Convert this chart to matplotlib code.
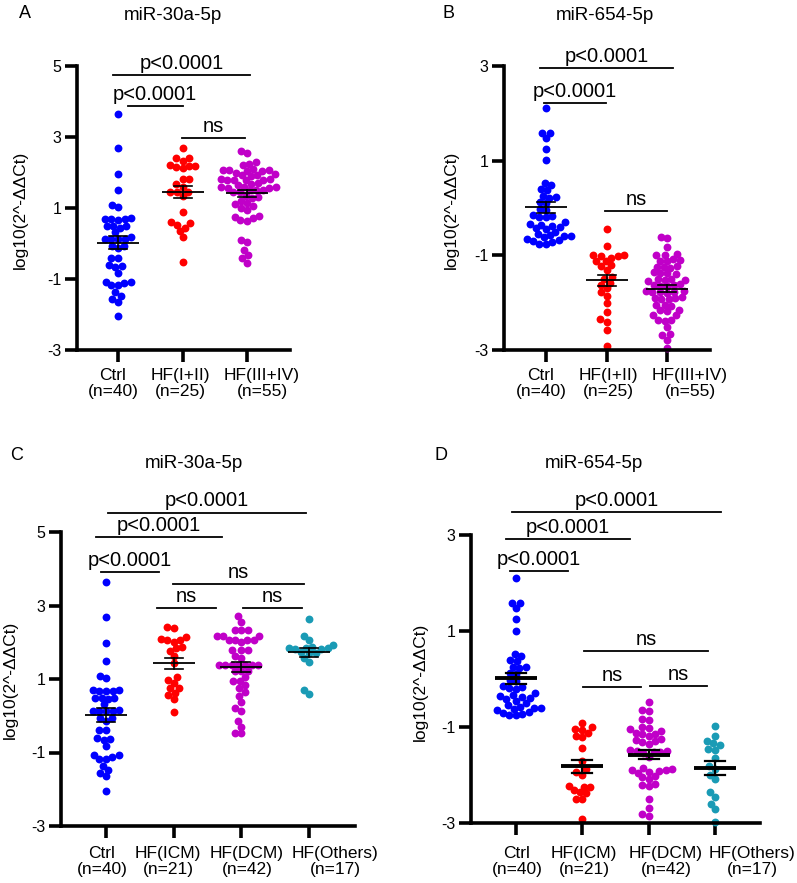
import numpy as np
import matplotlib
matplotlib.use('Agg')
import matplotlib.pyplot as plt

plt.rcParams['font.family'] = ['Liberation Sans', 'DejaVu Sans']

W, H, DPI = 797, 883, 100

# ---------------- data ----------------
ctrl_30a = [3.64, 2.70, 1.97, 1.50, 1.09, 1.02, 0.68, 0.68, 0.70, 0.66,
            0.71, 0.49, 0.49, 0.49, 0.45, 0.31, 0.14, 0.17, 0.14, 0.14,
            0.14, -0.07, -0.14, -0.07, -0.40, -0.40, -0.61, -0.65, -0.63, -0.82,
            -1.08, -1.17, -1.17, -1.12, -1.08, -1.47, -1.36, -1.64, -1.57, -2.04]
hf12_30a = [2.70, 2.40, 2.33, 2.40, 2.13, 2.16, 2.19, 2.19, 2.20, 1.82,
            1.82, 1.60, 1.67, 1.44, 1.44, 1.44, 1.35, 0.90, 0.52, 0.60,
            0.45, 0.57, 0.35, 0.18, -0.51]
hf34_30a = [2.61, 2.54, 2.30, 2.25, 2.20, 2.10, 2.07, 2.07, 2.05, 2.07,
            2.05, 2.00, 1.95, 1.93, 1.93, 1.90, 1.82, 1.80, 1.80, 1.78,
            1.80, 1.82, 1.70, 1.68, 1.65, 1.58, 1.55, 1.50, 1.45, 1.60,
            1.55, 1.58, 1.50, 1.50, 1.45, 1.35, 1.32, 1.28, 1.20, 1.15,
            1.10, 1.05, 1.00, 0.95, 0.78, 0.75, 0.72, 0.65, 0.62, 0.10,
            0.05, -0.18, -0.32, -0.42, -0.55]
ctrl_654 = [2.11, 1.58, 1.58, 1.47, 1.24, 1.01, 0.52, 0.48, 0.40, 0.37,
            0.26, 0.24, 0.22, 0.13, 0.10, -0.02, -0.05, -0.15, -0.17, -0.18,
            -0.20, -0.30, -0.33, -0.35, -0.38, -0.40, -0.42, -0.45, -0.50, -0.55,
            -0.58, -0.60, -0.60, -0.62, -0.65, -0.68, -0.72, -0.75, -0.75, -0.70]
hf12_654 = [-0.45, -0.80, -1.05, -1.00, -1.00, -1.02, -1.02, -1.20, -1.12, -1.12,
            -1.22, -1.30, -1.45, -1.50, -1.58, -1.62, -1.70, -1.78, -1.85, -2.00,
            -2.20, -2.40, -2.35, -2.58, -2.92]
hf34_654 = [-0.61, -0.64, -0.82, -0.97, -1.00, -0.99, -1.08, -1.10, -1.12, -1.11,
            -1.22, -1.25, -1.24, -1.26, -1.36, -1.38, -1.40, -1.37, -1.50, -1.52,
            -1.53, -1.51, -1.54, -1.62, -1.63, -1.65, -1.61, -1.64, -1.75, -1.77,
            -1.78, -1.76, -1.79, -1.77, -1.90, -1.91, -1.92, -1.89, -1.93, -2.05,
            -2.04, -2.06, -2.15, -2.17, -2.16, -2.26, -2.27, -2.36, -2.38, -2.37,
            -2.51, -2.67, -2.69, -2.79, -2.95]
icm_30a = [2.41, 2.40, 2.15, 2.09, 2.07, 2.07, 2.02, 1.87, 1.84, 1.77,
           1.63, 1.44, 1.06, 0.97, 0.90, 0.75, 0.75, 0.63, 0.56, 0.45, 0.09]
dcm_30a = [2.71, 2.56, 2.32, 2.32, 2.32, 2.17, 2.17, 2.17, 2.07, 2.07,
           2.07, 2.07, 2.00, 1.79, 1.79, 1.79, 1.63, 1.56, 1.38, 1.38,
           1.38, 1.38, 1.38, 1.38, 1.38, 1.22, 1.22, 1.22, 1.06, 0.94,
           0.94, 0.84, 0.75, 0.64, 0.54, 0.37, 0.20, 0.14, -0.14, -0.30,
           -0.48, -0.48]
oth_30a = [2.63, 2.18, 2.05, 1.93, 1.88, 1.85, 1.83, 1.83, 1.82, 1.82,
           1.73, 1.72, 1.70, 1.58, 1.45, 0.70, 0.58]
icm_654 = [-0.92, -1.01, -1.05, -1.06, -1.12, -1.19, -1.20, -1.43, -1.70, -1.88,
           -1.93, -1.99, -2.22, -2.24, -2.24, -2.31, -2.35, -2.38, -2.49, -2.49, -2.92]
dcm_654 = [-0.47, -0.64, -0.67, -0.83, -0.85, -1.00, -1.02, -1.05, -1.08, -1.12,
           -1.14, -1.15, -1.18, -1.25, -1.27, -1.30, -1.32, -1.35, -1.48, -1.50,
           -1.50, -1.52, -1.53, -1.55, -1.62, -1.85, -1.88, -1.90, -1.90, -1.92,
           -1.93, -1.95, -2.02, -2.05, -2.08, -2.18, -2.20, -2.22, -2.50, -2.69,
           -2.82, -2.85]
oth_654 = [-0.97, -1.19, -1.29, -1.34, -1.38, -1.46, -1.48, -1.65, -1.82, -1.88,
           -2.00, -2.09, -2.35, -2.45, -2.60, -2.71, -2.97]

labels_stage = ['Ctrl\n(n=40)', 'HF(I+II)\n(n=25)', 'HF(III+IV)\n(n=55)']
labels_etio = ['Ctrl\n(n=40)', 'HF(ICM)\n(n=21)', 'HF(DCM)\n(n=42)', 'HF(Others)\n(n=17)']
title_30a = 'miR-30a-5p'
title_654 = 'miR-654-5p'
ylabel = 'log10(2^-ΔΔCt)'

BLUE, RED, MAG, TEAL = '#0000FF', '#FF0000', '#C000C8', '#1A9BB5'

fig = plt.figure(figsize=(W / DPI, H / DPI), dpi=DPI)


def swarm(vals_px, d):
    vals_px = np.asarray(vals_px, float)
    order = np.argsort(vals_px)
    placed = []
    xs = np.zeros(len(vals_px))
    for i in order:
        y = vals_px[i]
        near = [(px, py) for px, py in placed if abs(py - y) < d]
        cands = [0.0]
        for px, py in near:
            dx = np.sqrt(max(d * d - (py - y) ** 2, 0))
            cands += [px - dx, px + dx]
        cands = sorted(cands, key=lambda c: (round(abs(c), 6), c))
        for c in cands:
            if all((c - px) ** 2 + (y - py) ** 2 >= d * d - 1e-6 for px, py in near):
                xs[i] = c
                break
        placed.append((xs[i], y))
    return xs


def panel(box, cats_px, ylim, yticks, groups, colors, labels, label_x, label_y,
          title, letter, title_xy, letter_xy, ylab_xy, annots, thick=False):
    left, top, right, bottom = box
    sp = (cats_px[-1] - cats_px[0]) / (len(cats_px) - 1)
    ax = fig.add_axes([left / W, 1 - bottom / H, (right - left) / W, (bottom - top) / H])
    ax.set_xlim((left - cats_px[0]) / sp, (right - cats_px[0]) / sp)
    ax.set_ylim(*ylim)
    ppu = (bottom - top) / (ylim[1] - ylim[0])
    for k, (vals, col) in enumerate(zip(groups, colors)):
        vals = np.asarray(vals, float)
        offs = swarm(vals * ppu, 6.6) / sp
        ax.scatter(k + offs, vals, s=32, color=col, linewidths=0, zorder=2, clip_on=False)
        m = vals.mean()
        se = vals.std(ddof=1) / np.sqrt(len(vals))
        hw = 21 / sp
        cw = (10 if thick else 9) / sp
        lw_m = 2.8 if thick else 1.3
        lw_e = 1.6 if thick else 1.2
        ax.plot([k - hw, k + hw], [m, m], color='black', lw=lw_m, zorder=3, solid_capstyle='butt')
        ax.plot([k, k], [m - se, m + se], color='black', lw=lw_e, zorder=3)
        ax.plot([k - cw, k + cw], [m + se, m + se], color='black', lw=lw_e, zorder=3)
        ax.plot([k - cw, k + cw], [m - se, m - se], color='black', lw=lw_e, zorder=3)
    for s in ['top', 'right']:
        ax.spines[s].set_visible(False)
    for s in ['left', 'bottom']:
        ax.spines[s].set_linewidth(2.6)
    ax.set_yticks(yticks)
    ax.set_yticklabels([str(t) for t in yticks], fontsize=11.5)
    ax.set_xticks(range(len(groups)))
    ax.set_xticklabels([''] * len(groups))
    ax.tick_params(axis='y', length=9, width=2.6, pad=2)
    ax.tick_params(axis='x', length=8.5, width=2.6, pad=3)
    for lab, lx in zip(labels, label_x):
        fig.text(lx / W, 1 - label_y / H, lab, ha='center', va='top', fontsize=12.5,
                 linespacing=1.1)
    for x1, x2, y, txt in annots:
        ax.plot([x1, x2], [y, y], color='black', lw=1.3, clip_on=False)
        ax.annotate(txt, xy=((x1 + x2) / 2, y), xytext=(0, 1.5), textcoords='offset points',
                    ha='center', va='bottom', fontsize=14.5, annotation_clip=False)
    fig.text(title_xy[0] / W, 1 - title_xy[1] / H, title, ha='center', va='center', fontsize=13.5)
    fig.text(letter_xy[0] / W, 1 - letter_xy[1] / H, letter, ha='center', va='center', fontsize=13)
    fig.text(ylab_xy[0] / W, 1 - ylab_xy[1] / H, ylabel, ha='center', va='center',
             rotation=90, fontsize=12.5)
    return ax


panel((77, 66, 290, 350), [118, 183, 247], (-3, 5), [-3, -1, 1, 3, 5],
      [ctrl_30a, hf12_30a, hf34_30a], [BLUE, RED, MAG], labels_stage,
      [113, 180, 262], 368,
      title_30a, 'A', (173, 16), (25, 13), (20, 210),
      [(-0.08, 2.05, 4.75, 'p<0.0001'), (0.155, 1.0, 3.87, 'p<0.0001'),
       (0.99, 1.97, 2.97, 'ns')])

panel((504, 66, 710, 350), [546, 607, 667], (-3, 3), [-3, -1, 1, 3],
      [ctrl_654, hf12_654, hf34_654], [BLUE, RED, MAG], labels_stage,
      [541, 608, 690], 368,
      title_654, 'B', (605, 16), (448, 13), (451, 210),
      [(-0.1, 2.1, 2.96, 'p<0.0001'), (-0.03, 0.99, 2.22, 'p<0.0001'),
       (0.98, 2.0, -0.06, 'ns')])

panel((61, 532, 355, 826), [106, 173, 241, 309], (-3, 5), [-3, -1, 1, 3, 5],
      [ctrl_30a, icm_30a, dcm_30a, oth_30a], [BLUE, RED, MAG, TEAL], labels_etio,
      [102, 168, 247, 335], 846,
      title_30a, 'C', (194, 463), (17, 455), (10, 680),
      [(0.03, 2.95, 5.53, 'p<0.0001'), (-0.15, 1.71, 4.86, 'p<0.0001'),
       (-0.07, 0.78, 3.91, 'p<0.0001'), (0.99, 2.92, 3.59, 'ns'),
       (0.75, 1.62, 2.94, 'ns'), (2.02, 2.9, 2.93, 'ns')])

panel((471, 535, 760, 823), [516, 583, 648, 715], (-3, 3), [-3, -1, 1, 3],
      [ctrl_654, icm_654, dcm_654, oth_654], [BLUE, RED, MAG, TEAL], labels_etio,
      [517, 584, 666, 752], 846,
      title_654, 'D', (594, 463), (441, 455), (420, 682),
      [(-0.06, 3.09, 3.48, 'p<0.0001'), (-0.15, 1.72, 2.92, 'p<0.0001'),
       (-0.09, 0.78, 2.24, 'p<0.0001'), (1.03, 2.9, 0.58, 'ns'),
       (1.01, 1.89, -0.16, 'ns'), (2.02, 2.88, -0.14, 'ns')], thick=True)

fig.savefig('out.png', dpi=DPI)
